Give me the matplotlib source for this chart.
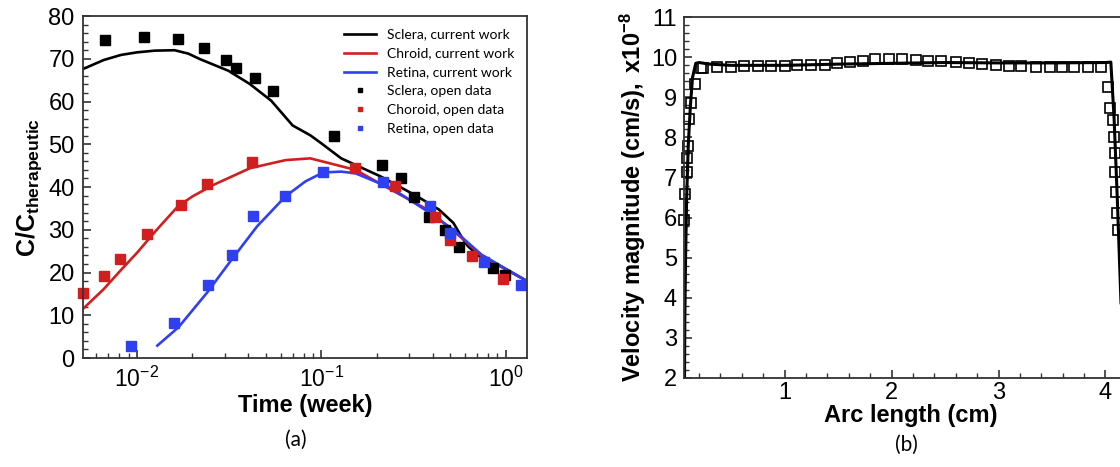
import numpy as np
import matplotlib
matplotlib.use('Agg')
import matplotlib.pyplot as plt
from matplotlib.ticker import MultipleLocator, LogLocator, NullFormatter

plt.rcParams['font.family'] = ['Liberation Sans', 'DejaVu Sans']
plt.rcParams['mathtext.fontset'] = 'custom'
plt.rcParams['mathtext.rm'] = 'Liberation Sans'
plt.rcParams['mathtext.bf'] = 'Liberation Sans:bold'
plt.rcParams['mathtext.it'] = 'Liberation Sans:italic'

# ---- panel (a): concentration vs time ----
sclera_t = [0.0067, 0.0109, 0.0166, 0.0232, 0.0303, 0.0346, 0.0436, 0.0546, 0.117,
            0.212, 0.269, 0.318, 0.384, 0.466, 0.554, 0.853, 0.986]
sclera_c = [74.4, 75.1, 74.7, 72.6, 69.8, 67.8, 65.4, 62.5, 51.9,
            45.2, 42.2, 37.6, 33.0, 30.0, 25.9, 21.1, 19.5]
choroid_t = [0.00512, 0.00667, 0.00807, 0.0113, 0.0174, 0.024, 0.0421, 0.152,
             0.251, 0.414, 0.498, 0.658, 0.964]
choroid_c = [15.2, 19.1, 23.1, 29.0, 35.8, 40.6, 45.8, 44.4, 40.3, 33.1, 27.7, 23.9, 18.4]
retina_t = [0.0093, 0.0159, 0.0244, 0.0328, 0.0424, 0.0638, 0.102, 0.216, 0.387,
            0.50, 0.757, 1.21]
retina_c = [2.9, 8.2, 17.1, 24.2, 33.2, 37.8, 43.4, 41.2, 35.5, 29.3, 22.5, 17.1]

sclera_line_t = [0.0051, 0.0066, 0.0082, 0.01, 0.0125, 0.016, 0.019, 0.022, 0.0313, 0.0409,
                 0.0534, 0.0698, 0.087, 0.1, 0.128, 0.211, 0.331, 0.434, 0.519, 0.57,
                 0.621, 0.71, 0.93, 1.3]
sclera_line_c = [67.6, 69.7, 70.9, 71.5, 71.9, 72.0, 71.2, 69.9, 67.2, 64.1,
                 60.2, 54.4, 52.1, 50.2, 46.7, 42.4, 37.8, 34.7, 31.6, 28.6,
                 26.2, 23.9, 21.5, 18.0]
choroid_line_t = [0.0051, 0.0066, 0.0082, 0.01, 0.0128, 0.0167, 0.02, 0.026, 0.041, 0.064,
                  0.087, 0.112, 0.153, 0.24, 0.376, 0.59, 0.736, 1.3]
choroid_line_c = [11.5, 16.1, 20.6, 24.6, 30.0, 35.5, 37.8, 40.5, 44.4, 46.3,
                  46.7, 45.5, 44.0, 39.3, 34.7, 27.7, 23.9, 18.0]
retina_line_t = [0.0129, 0.0168, 0.024, 0.0327, 0.0448, 0.0638, 0.0818, 0.102, 0.128,
                 0.153, 0.24, 0.376, 0.519, 0.736, 1.3]
retina_line_c = [2.9, 7.2, 15.3, 23.1, 30.8, 37.8, 41.3, 43.4, 43.6,
                 43.2, 39.7, 34.3, 30.0, 24.2, 18.0]

# ---- panel (b): velocity magnitude vs arc length ----
arc_line = [0.065, 0.068, 0.075, 0.085, 0.1, 0.12, 0.14, 0.17, 0.2, 0.3, 0.5, 1.0, 1.5,
            2.0, 2.5, 3.0, 3.5, 4.0, 4.05, 4.08, 4.11, 4.13, 4.15, 4.17]
vel_line = [2.0, 3.5, 5.0, 6.5, 7.8, 8.8, 9.5, 9.85, 9.87, 9.83, 9.8, 9.8, 9.83,
            9.85, 9.87, 9.86, 9.86, 9.87, 9.88, 8.5, 6.5, 5.0, 3.5, 2.0]
arc_pts = [0.06, 0.07, 0.09, 0.085, 0.10, 0.11, 0.13, 0.16, 0.22,
           0.24, 0.37, 0.50, 0.62, 0.75, 0.87, 1.0, 1.12, 1.25, 1.38, 1.49, 1.61,
           1.73, 1.85, 1.98, 2.10, 2.23, 2.34, 2.46, 2.60, 2.72, 2.85, 2.98, 3.10,
           3.21, 3.35, 3.48, 3.59, 3.71, 3.84, 3.96,
           4.02, 4.04, 4.07, 4.08, 4.085, 4.09, 4.10, 4.11, 4.12]
vel_pts = [5.95, 6.6, 7.15, 7.5, 7.8, 8.45, 8.85, 9.33, 9.73,
           9.73, 9.76, 9.77, 9.78, 9.78, 9.78, 9.79, 9.80, 9.82, 9.82, 9.85, 9.89,
           9.92, 9.95, 9.96, 9.96, 9.94, 9.92, 9.90, 9.89, 9.87, 9.84, 9.81, 9.79,
           9.78, 9.77, 9.77, 9.77, 9.77, 9.77, 9.76,
           9.27, 8.74, 8.44, 8.01, 7.62, 7.14, 6.64, 6.12, 5.69]

red = '#d11f1f'
blue = '#2f3ff2'

fig = plt.figure(figsize=(11.2, 4.67), dpi=100)

ax1 = fig.add_axes([0.0741, 0.2334, 0.3964, 0.7323])
ax1.plot(sclera_line_t, sclera_line_c, color='black', lw=1.9, label='Sclera, current work')
ax1.plot(choroid_line_t, choroid_line_c, color=red, lw=1.9, label='Chroid, current work')
ax1.plot(retina_line_t, retina_line_c, color=blue, lw=1.9, label='Retina, current work')
ax1.plot(sclera_t, sclera_c, 's', color='black', ms=6.5, clip_on=False, label='Sclera, open data')
ax1.plot(choroid_t, choroid_c, 's', color=red, ms=6.5, clip_on=False, label='Choroid, open data')
ax1.plot(retina_t, retina_c, 's', color=blue, ms=6.5, clip_on=False, label='Retina, open data')
ax1.set_xscale('log')
ax1.set_xlim(0.0051, 1.3)
ax1.set_ylim(0, 80)
ax1.yaxis.set_major_locator(MultipleLocator(10))
ax1.yaxis.set_minor_locator(MultipleLocator(2))
ax1.xaxis.set_minor_locator(LogLocator(base=10, subs=np.arange(2, 10)))
ax1.xaxis.set_minor_formatter(NullFormatter())
ax1.tick_params(axis='both', which='major', direction='in', length=6, width=1.2, color='#333333')
ax1.tick_params(axis='both', which='minor', direction='in', length=3.5, width=1, color='#333333')
ax1.tick_params(axis='y', labelsize=17, pad=6)
ax1.tick_params(axis='x', labelsize=16.5, pad=6)
for s in ax1.spines.values():
    s.set_linewidth(1.3)
    s.set_color('#333333')
ax1.set_xlabel('Time (week)', fontsize=17, fontweight='bold', labelpad=2)
ax1.set_ylabel(r'$\mathbf{C/C_{therapeutic}}$', fontsize=18, labelpad=3)
leg = ax1.legend(loc='upper right', frameon=False, handlelength=2.3,
                 handletextpad=0.8, labelspacing=0.5, markerscale=0.38,
                 borderaxespad=0.5, prop={'family': 'Lato', 'size': 10})
fig.text(0.264, 0.058, '(a)', fontsize=15, family='Lato', ha='center', va='center')

ax2 = fig.add_axes([0.6107, 0.1906, 0.405, 0.7725])
ax2.plot(arc_line, vel_line, color='black', lw=2.2)
ax2.plot(arc_pts, vel_pts, 's', mfc='none', mec='black', mew=1.2, ms=7.5, clip_on=False)
ax2.set_xlim(0.06, 4.3)
ax2.set_ylim(2, 11)
ax2.xaxis.set_major_locator(MultipleLocator(1))
ax2.xaxis.set_minor_locator(MultipleLocator(0.2))
ax2.yaxis.set_major_locator(MultipleLocator(1))
ax2.yaxis.set_minor_locator(MultipleLocator(0.2))
ax2.tick_params(axis='both', which='major', direction='in', length=6, width=1.2,
                labelsize=17, color='#333333')
ax2.tick_params(axis='both', which='minor', direction='in', length=3.5, width=1, color='#333333')
ax2.tick_params(axis='y', pad=5)
ax2.tick_params(axis='x', pad=3)
for s in ax2.spines.values():
    s.set_linewidth(1.3)
    s.set_color('#333333')
ax2.set_xlabel('Arc length (cm)', fontsize=17, fontweight='bold', labelpad=0)
ax2.set_ylabel(r'$\mathbf{Velocity\ magnitude\ (cm/s),\ x10^{-8}}$', fontsize=17, labelpad=2)
fig.text(0.809, 0.047, '(b)', fontsize=15, family='Lato', ha='center', va='center')

fig.savefig('out.png', dpi=100)
